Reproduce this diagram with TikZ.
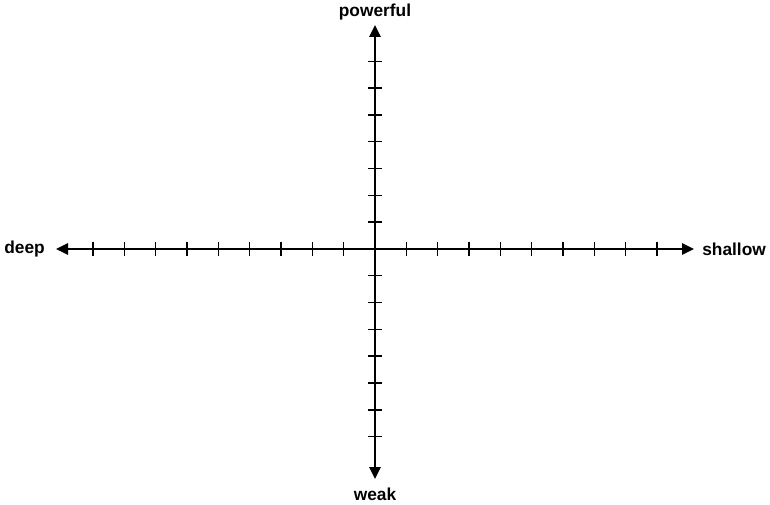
\documentclass[tikz,border=0pt]{standalone}
\usepackage{fontspec}
\setmainfont{Liberation Sans}
\usetikzlibrary{arrows.meta,calc}
\begin{document}
\begin{tikzpicture}[x=0.75pt,y=-0.75pt,
  axis/.style={line width=1.6pt,{Triangle[length=9pt,width=8.5pt]}-{Triangle[length=9pt,width=8.5pt]}},
  tick/.style={line width=1.05pt},
  lbl/.style={font=\fontsize{13}{15}\selectfont\bfseries,inner sep=0pt}]
\useasboundingbox (0,0) rectangle (770,505);
\coordinate (O) at (375,249);
\coordinate (L) at (56,249);
\coordinate (R) at (694,249);
\coordinate (T) at (375,25);
\coordinate (B) at (375,479);
\node[lbl,anchor=east] (deep) at (45,249) {deep};
\node[lbl,anchor=west] (shallow) at (702,249) {shallow};
\node[lbl] (powerful) at (375,12) {powerful};
\node[lbl] (weak) at (375,494) {weak};
\draw[axis] (L) -- (R);
\draw[axis] (T) -- (B);
\foreach \i in {1,...,9} {
  \draw[tick] ($(O)+(\i*31.33,-7)$) -- ($(O)+(\i*31.33,7)$);
  \draw[tick] ($(O)+(-\i*31.33,-7)$) -- ($(O)+(-\i*31.33,7)$);
}
\foreach \i in {1,...,7} {
  \draw[tick] ($(O)+(-7,\i*26.8)$) -- ($(O)+(7,\i*26.8)$);
  \draw[tick] ($(O)+(-7,-\i*26.8)$) -- ($(O)+(7,-\i*26.8)$);
}
\end{tikzpicture}
\end{document}
